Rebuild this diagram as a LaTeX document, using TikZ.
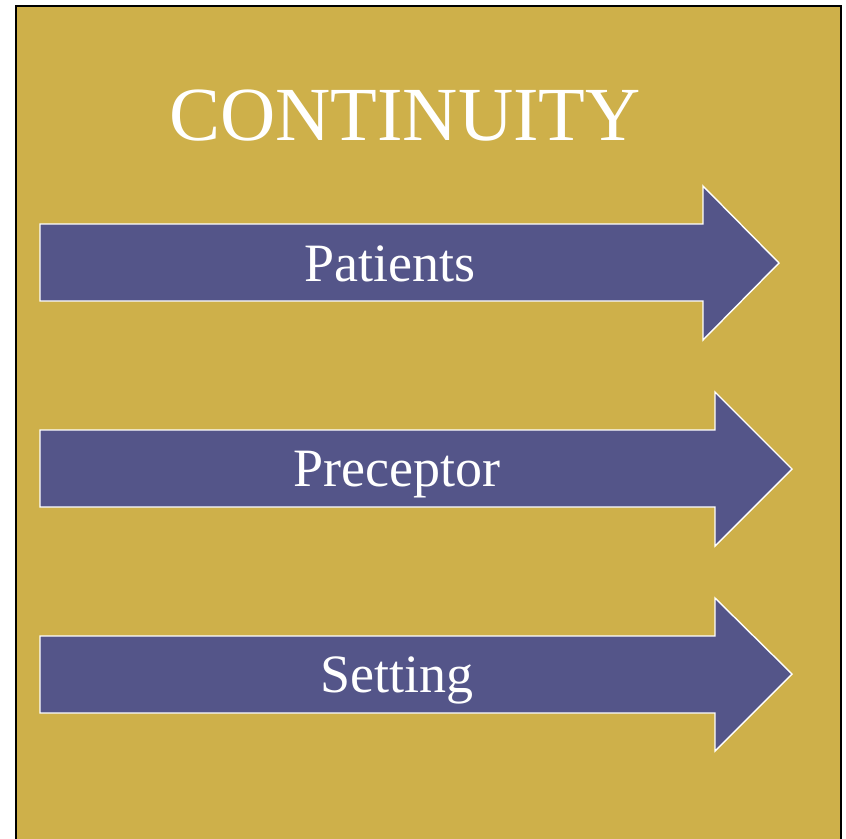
\documentclass[tikz,border=0pt]{standalone}
\usepackage{fontspec}
\setmainfont{Liberation Serif}
\usepackage{tikz}
\usetikzlibrary{arrows.meta, positioning, calc}

\definecolor{panelgold}{RGB}{206,176,74}
\definecolor{arrowblue}{RGB}{84,85,137}

\begin{document}
\begin{tikzpicture}[
            x=1pt, y=-1pt,
            panel/.style  ={fill=panelgold, draw=black, line width=2pt},
            band/.style   ={fill=arrowblue, draw=white, line width=1.4pt, line join=miter},
            title/.style  ={font=\fontsize{76.5}{80}\selectfont, text=white, anchor=base, inner sep=0pt},
            label/.style  ={font=\fontsize{54}{57}\selectfont, text=white, anchor=base, inner sep=0pt}
        ]

        \useasboundingbox (0,0) rectangle (846,838);
        \clip (0,0) rectangle (846,838);

        %% --- gold panel, runs off the bottom edge ---
        \draw[panel] (16,6) rectangle (841,860);

        \node[title] (heading) at (405,140) {CONTINUITY};

        %% --- three arrows: shaft top/bottom, head x, head top/bottom, tip x ---
        \draw[band] (40,224) -- (703,224) -- (703,186) -- (779,263)
                    -- (703,340) -- (703,301) -- (40,301) -- cycle;
        \draw[band] (40,430) -- (715,430) -- (715,392) -- (792,469)
                    -- (715,546) -- (715,507) -- (40,507) -- cycle;
        \draw[band] (40,636) -- (715,636) -- (715,598) -- (792,674)
                    -- (715,751) -- (715,713) -- (40,713) -- cycle;

        \node[label] (patients)  at (390,281.5) {Patients};
        \node[label] (preceptor) at (397,486)   {Preceptor};
        \node[label] (setting)   at (397,692)   {Setting};

    \end{tikzpicture}
\end{document}
